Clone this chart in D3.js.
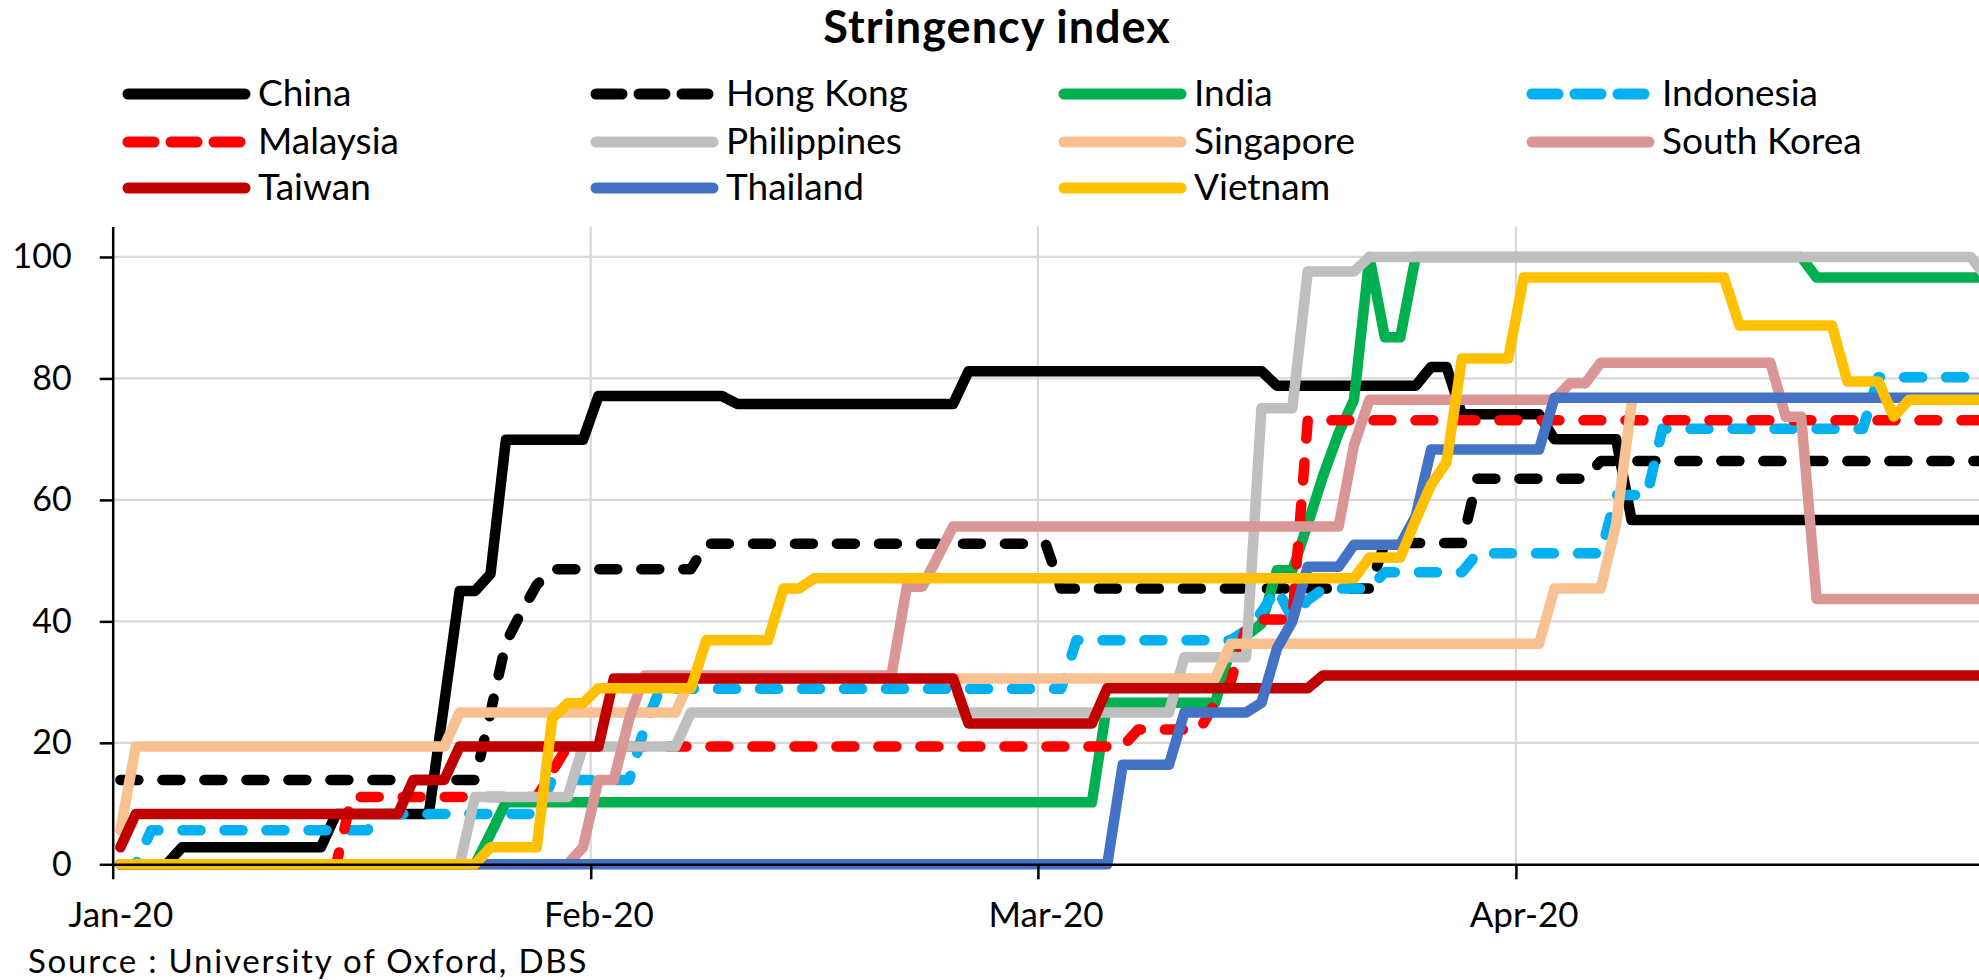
<!DOCTYPE html>
<html>
<head>
<meta charset="utf-8">
<script src="https://cdn.jsdelivr.net/npm/d3@7"></script>
<style>
  body { margin: 0; background: #fff; }
  svg { display: block; font-family: Lato, "Open Sans", sans-serif; }
</style>
</head>
<body>
<svg id="chart" width="1979" height="980"></svg>
<script>
// days since 1 Jan 2020, stringency index value (vertices of each step line)
const china       = [[0,0],[3,0],[4,2.8],[13,2.8],[14,8.3],[20,8.3],[21,26.5],[22,45],[23,45],[24,47.8],[25,69.9],[30,69.9],[31,77.1],[39,77.1],[40,75.8],[54,75.8],[55,81.2],[74,81.2],[75,78.8],[84,78.8],[85,81.9],[86,81.9],[87,74.1],[92,74.1],[93,70],[97,70],[98,56.7],[121,56.7]];
const hongKong    = [[0,13.9],[23,13.9],[24,25],[25,36.5],[26,41.5],[27,46],[28,48.6],[37,48.6],[38,52.8],[60,52.8],[61,45.4],[81,45.4],[82,52.9],[87,52.9],[88,63.5],[95,63.5],[96,66.4],[121,66.4]];
const india       = [[0,0],[23,0],[24,5],[25,10.2],[63,10.2],[64,26.6],[71,26.6],[72,35.5],[73,37.6],[74,39.6],[75,48.4],[76,48.4],[77,56],[78,64],[79,71],[80,76.5],[81,100],[82,86.8],[83,86.8],[84,100],[109,100],[110,96.6],[121,96.6]];
const indonesia   = [[0,0],[1,0],[2,5.6],[16,5.6],[17,8.3],[27,8.3],[28,13.9],[33,13.9],[34,22.6],[35,28.9],[61,28.9],[62,36.9],[72,36.9],[73,38.5],[74,41.5],[75,45.4],[76,40.5],[77,43.5],[78,45.4],[81,45.4],[82,48.1],[87,48.1],[88,51.2],[96,51.2],[97,60.8],[99,60.8],[100,71.7],[113,71.7],[114,80.2],[121,80.2]];
const malaysia    = [[0,0],[14,0],[15,11.1],[27,11.1],[28,15.3],[29,19.4],[65,19.4],[66,22.2],[70,22.2],[71,26.6],[72,30],[73,39],[74,40.3],[76,40.3],[77,73.1],[121,73.1]];
const philippines = [[0,0],[22,0],[23,11.1],[29,11.1],[30,19.4],[36,19.4],[37,25],[68,25],[69,34.1],[73,34.1],[74,75.1],[76,75.1],[77,97.6],[80,97.6],[81,100],[120,100],[121,96.7]];
const singapore   = [[0,5.6],[1,19.4],[21,19.4],[22,25],[36,25],[37,30.6],[71,30.6],[72,36.3],[92,36.3],[93,45.4],[96,45.4],[97,56],[98,75.8]];
const southKorea  = [[0,0],[29,0],[30,2.8],[31,13.9],[32,13.9],[33,24],[34,31.1],[50,31.1],[51,45.7],[52,45.7],[53,50.6],[54,55.6],[79,55.6],[80,69],[81,76.5],[93,76.5],[94,79.2],[95,79.2],[96,82.6],[107,82.6],[108,73.7],[109,73.7],[110,43.7],[121,43.7]];
const taiwan      = [[0,2.8],[1,8.3],[18,8.3],[19,13.9],[21,13.9],[22,19.4],[31,19.4],[32,30.6],[54,30.6],[55,23.2],[63,23.2],[64,29],[77,29],[78,31.1],[121,31.1]];
const thailand    = [[0,0],[64,0],[65,16.4],[68,16.4],[69,25],[73,25],[74,26.6],[75,35.5],[76,40],[77,49],[79,49],[80,52.6],[83,52.6],[84,57.3],[85,68.3],[92,68.3],[93,76.8],[121,76.8]];
const vietnam     = [[0,0],[23,0],[24,2.8],[27,2.8],[28,24],[29,26.5],[30,26.5],[31,29],[37,29],[38,36.9],[42,36.9],[43,45.4],[44,45.4],[45,47.1],[80,47.1],[81,50.5],[83,50.5],[84,56.7],[85,62.5],[86,66.2],[87,83.3],[90,83.3],[91,96.6],[104,96.6],[105,88.7],[111,88.7],[112,79.5],[114,79.5],[115,73.7],[116,76.5],[121,76.5]];

const countries = ['China','Hong Kong','India','Indonesia','Malaysia','Philippines','Singapore','South Korea','Taiwan','Thailand','Vietnam'];
const values = [china, hongKong, india, indonesia, malaysia, philippines, singapore, southKorea, taiwan, thailand, vietnam];
const yTicks = [0, 20, 40, 60, 80, 100];
const monthTicks = ['2020-01-01','2020-02-01','2020-03-01','2020-04-01'];
const title = 'Stringency index';
const source = 'Source : University of Oxford, DBS';

// line styles
const styles = {
  'China':       { color: '#000000', dash: null },
  'Hong Kong':   { color: '#000000', dash: '18 24' },
  'India':       { color: '#00B050', dash: null },
  'Indonesia':   { color: '#00B0F0', dash: '18 24' },
  'Malaysia':    { color: '#FF0000', dash: '18 24' },
  'Philippines': { color: '#BFBFBF', dash: null },
  'Singapore':   { color: '#F8C192', dash: null },
  'South Korea': { color: '#D99694', dash: null },
  'Taiwan':      { color: '#C00000', dash: null },
  'Thailand':    { color: '#4472C4', dash: null },
  'Vietnam':     { color: '#FFC000', dash: null }
};

const svg = d3.select('#chart');
const width = 1979;

const start = new Date(Date.UTC(2020, 0, 1));
const pxPerDay = 15.42;
const x0 = 112.7;
const x = d3.scaleUtc()
  .domain([start, d3.utcDay.offset(start, 125)])
  .range([x0, x0 + 125 * pxPerDay]);
const y = d3.scaleLinear().domain([0, 105]).range([864.3, 226.6]);

// points sit in the middle of each day (line chart "between tick marks")
const dayPos = i => new Date(start.getTime() + (i + 0.5) * 864e5);

// gridlines
svg.append('g')
  .selectAll('line.h')
  .data(yTicks.filter(d => d > 0))
  .enter().append('line')
    .attr('x1', x0).attr('x2', width)
    .attr('y1', d => y(d)).attr('y2', d => y(d))
    .style('stroke', '#D9D9D9').style('stroke-width', '2.2px');

svg.append('g')
  .selectAll('line.v')
  .data(monthTicks.slice(1))
  .enter().append('line')
    .attr('x1', d => x(new Date(d))).attr('x2', d => x(new Date(d)))
    .attr('y1', y(105)).attr('y2', y(0))
    .style('stroke', '#D9D9D9').style('stroke-width', '2.2px');

// series
const line = d3.line()
  .x(d => x(dayPos(d[0])))
  .y(d => y(d[1]));

svg.append('g')
  .selectAll('path')
  .data(countries)
  .enter().append('path')
    .attr('d', (d, i) => line(values[i]))
    .style('fill', 'none')
    .style('stroke', d => styles[d].color)
    .style('stroke-width', '10.5px')
    .style('stroke-linecap', 'round')
    .style('stroke-linejoin', 'round')
    .style('stroke-dasharray', d => styles[d].dash);

// axes
const yAxis = svg.append('g')
  .attr('transform', `translate(${x0},0)`)
  .call(d3.axisLeft(y).tickValues(yTicks).tickSize(13).tickSizeOuter(0).tickPadding(28));
yAxis.select('.domain').style('stroke', '#000').style('stroke-width', '2.5px');
yAxis.selectAll('.tick line').style('stroke', '#000').style('stroke-width', '2.5px');
yAxis.selectAll('text')
  .style('font-size', '34px').style('fill', '#000')
  .style('font-family', 'Lato, sans-serif');

const xAxis = svg.append('g')
  .attr('transform', `translate(0,${y(0)})`)
  .call(d3.axisBottom(x)
    .tickValues(monthTicks.map(d => new Date(d)))
    .tickSize(15).tickSizeOuter(0).tickPadding(23)
    .tickFormat(d3.utcFormat('%b-%y')));
xAxis.select('.domain').style('stroke', '#000').style('stroke-width', '2.5px');
xAxis.selectAll('.tick line').style('stroke', '#000').style('stroke-width', '2.5px');
xAxis.selectAll('text')
  .attr('dx', pxPerDay / 2)
  .style('font-size', '35px').style('fill', '#000')
  .style('font-family', 'Lato, sans-serif');

// title
svg.append('text')
  .attr('x', 997).attr('y', 43)
  .attr('text-anchor', 'middle')
  .style('font-size', '45px').style('font-weight', 'bold')
  .style('letter-spacing', '1px')
  .text(title);

// legend, 4 columns
const legendCols = [128, 596, 1064, 1532];
const legendRows = [94, 142, 188];
const legend = svg.append('g')
  .selectAll('g')
  .data(countries)
  .enter().append('g')
    .attr('transform', (d, i) => `translate(${legendCols[i % 4]},${legendRows[Math.floor(i / 4)]})`);

legend.append('line')
  .attr('x1', 0).attr('x2', 117)
  .style('stroke', d => styles[d].color)
  .style('stroke-width', '11px')
  .style('stroke-linecap', 'round')
  .style('stroke-dasharray', d => styles[d].dash ? '26 17' : null);

legend.append('text')
  .attr('x', 130).attr('y', 12)
  .style('font-size', '37px')
  .text(d => d);

// source note
svg.append('text')
  .attr('x', 28).attr('y', 973)
  .style('font-size', '33px')
  .style('letter-spacing', '1.8px')
  .text(source);
</script>
</body>
</html>
